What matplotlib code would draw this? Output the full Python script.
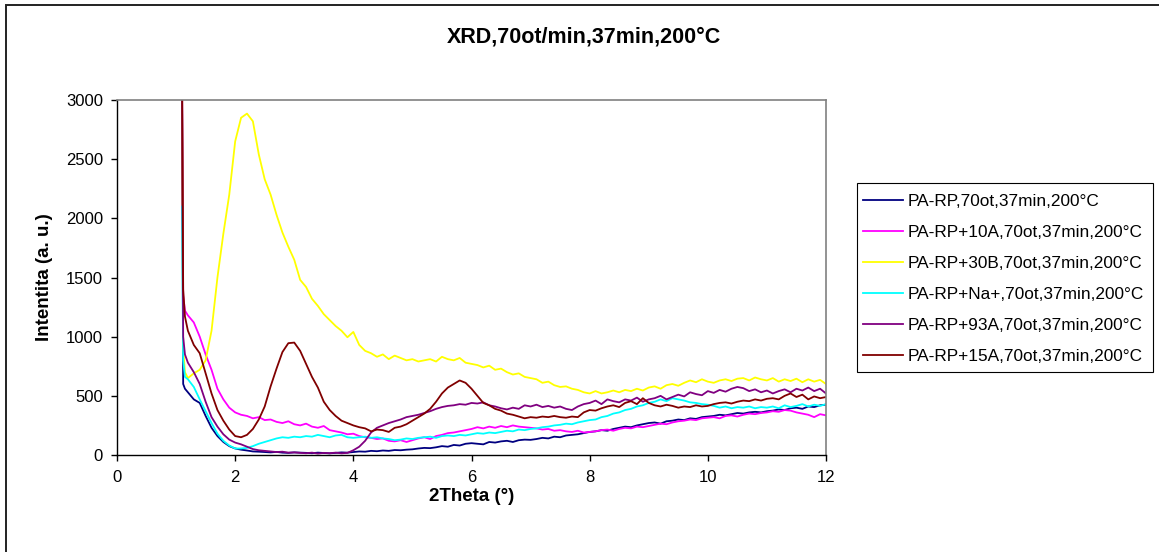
import numpy as np
import matplotlib
matplotlib.use("Agg")
import matplotlib.pyplot as plt
from matplotlib.patches import Rectangle

plt.rcParams['font.family'] = ['Liberation Sans', 'DejaVu Sans']

# 2-theta grid (degrees): steep start near 1.1, then 0.1 steps up to 12
two_theta = np.concatenate([[1.10, 1.12, 1.15], np.round(np.arange(1.2, 12.001, 0.1), 2)])

pa_rp = [3200, 600, 560,
         530, 470, 440, 330, 230, 160, 110, 75, 55,
         45, 38, 30, 28, 25, 22, 26, 20, 18, 22,
         20, 18, 15, 20, 17, 14, 18, 22, 20, 25,
         30, 28, 35, 32, 38, 35, 42, 40, 45, 48,
         55, 60, 58, 65, 75, 70, 85, 80, 95, 100,
         95, 90, 110, 105, 115, 120, 110, 125, 130, 128,
         135, 145, 140, 155, 150, 165, 170, 175, 185, 195,
         200, 210, 205, 220, 230, 240, 235, 250, 260, 270,
         275, 265, 285, 290, 300, 295, 310, 305, 320, 325,
         330, 340, 335, 345, 355, 350, 360, 365, 360, 370,
         375, 385, 380, 395, 400, 390, 410, 405, 420, 425]

pa_rp_10a = [3300, 1350, 1220,
             1180, 1120, 1000, 850, 720, 560, 470, 400, 360,
             340, 330, 310, 320, 295, 300, 280, 270, 285, 260,
             250, 265, 240, 230, 245, 210, 200, 190, 175, 180,
             160, 150, 145, 135, 140, 120, 115, 125, 110, 125,
             140, 150, 135, 160, 170, 185, 190, 200, 210, 220,
             235, 225, 240, 230, 245, 235, 250, 240, 235, 230,
             225, 215, 220, 205, 210, 200, 195, 205, 190, 195,
             200, 210, 215, 205, 220, 230, 225, 240, 235, 245,
             255, 265, 260, 275, 285, 290, 300, 295, 310, 315,
             320, 310, 330, 335, 325, 340, 350, 345, 355, 360,
             370, 365, 380, 375, 360, 350, 340, 320, 345, 335]

pa_rp_30b = [3100, 900, 700,
             650, 690, 720, 800, 1050, 1500, 1870, 2200, 2650,
             2850, 2885, 2820, 2540, 2330, 2200, 2030, 1880, 1760, 1650,
             1480, 1420, 1320, 1260, 1190, 1140, 1090, 1050, 995, 1040,
             930, 880, 860, 830, 850, 810, 840, 820, 800, 810,
             790, 800, 810, 790, 830, 810, 800, 820, 780, 770,
             760, 740, 755, 720, 730, 700, 680, 690, 660, 650,
             640, 610, 620, 590, 575, 580, 560, 550, 530, 520,
             540, 520, 530, 545, 530, 550, 540, 560, 545, 570,
             580, 560, 590, 600, 585, 610, 630, 615, 640, 620,
             610, 630, 640, 625, 645, 650, 630, 655, 640, 630,
             650, 620, 640, 625, 645, 615, 640, 620, 635, 600]

pa_rp_na = [2100, 800, 660,
            640, 575, 470, 370, 270, 180, 120, 80, 55,
            55, 60, 75, 95, 110, 125, 140, 150, 145, 155,
            150, 160, 155, 170, 160, 150, 165, 170, 150, 145,
            150, 155, 145, 150, 140, 135, 125, 130, 140, 135,
            145, 150, 155, 145, 160, 165, 160, 170, 165, 175,
            185, 180, 190, 185, 195, 205, 200, 215, 210, 220,
            225, 235, 240, 250, 255, 265, 260, 275, 285, 295,
            300, 320, 330, 350, 360, 380, 390, 410, 420, 440,
            450, 470, 455, 480, 470, 460, 445, 440, 430, 425,
            415, 400, 410, 395, 405, 400, 410, 395, 405, 400,
            410, 395, 420, 405, 415, 430, 410, 425, 415, 430]

pa_rp_93a = [3100, 1000, 850,
             780, 700, 600, 450, 320, 240, 175, 130, 105,
             90, 70, 50, 40, 35, 30, 25, 28, 20, 22,
             18, 15, 20, 12, 18, 15, 20, 14, 18, 40,
             70, 120, 190, 230, 250, 270, 285, 300, 320, 330,
             340, 355, 370, 390, 405, 415, 420, 430, 425, 440,
             435, 445, 420, 410, 395, 385, 400, 390, 420, 410,
             425, 405, 415, 400, 410, 390, 380, 410, 430, 440,
             460, 430, 470, 455, 445, 470, 460, 485, 450, 470,
             480, 500, 470, 490, 510, 495, 530, 515, 505, 540,
             525, 550, 535, 560, 575, 565, 540, 555, 530, 545,
             520, 540, 555, 530, 560, 545, 570, 540, 560, 520]

pa_rp_15a = [3500, 1400, 1170,
             1050, 930, 860, 690, 520, 380, 290, 215, 160,
             150, 170, 220, 300, 410, 580, 730, 870, 945, 950,
             880, 770, 660, 570, 450, 380, 330, 290, 270, 250,
             235, 225, 200, 215, 210, 195, 230, 240, 260, 290,
             320, 350, 390, 450, 520, 570, 600, 630, 610, 560,
             500, 440, 420, 390, 375, 350, 340, 325, 310, 320,
             315, 325, 320, 330, 320, 315, 325, 320, 360, 380,
             375, 395, 410, 420, 405, 440, 455, 430, 480, 440,
             420, 410, 425, 415, 400, 410, 405, 420, 410, 415,
             430, 440, 445, 435, 450, 460, 455, 470, 460, 475,
             480, 470, 500, 520, 490, 510, 470, 495, 480, 490]

series = [
    ("PA-RP,70ot,37min,200°C", pa_rp, "#000080"),
    ("PA-RP+10A,70ot,37min,200°C", pa_rp_10a, "#FF00FF"),
    ("PA-RP+30B,70ot,37min,200°C", pa_rp_30b, "#FFFF00"),
    ("PA-RP+Na+,70ot,37min,200°C", pa_rp_na, "#00FFFF"),
    ("PA-RP+93A,70ot,37min,200°C", pa_rp_93a, "#800080"),
    ("PA-RP+15A,70ot,37min,200°C", pa_rp_15a, "#800000"),
]

x_ticks = [0, 2, 4, 6, 8, 10, 12]
y_ticks = [0, 500, 1000, 1500, 2000, 2500, 3000]

W, H = 1159, 552
fig = plt.figure(figsize=(W / 100, H / 100), dpi=100)
fig.patch.set_facecolor("white")

# outer chart frame
fig.patches.append(Rectangle((6 / W, -0.05), 2.0, 1 - 5 / H + 0.05,
                             transform=fig.transFigure, fill=False,
                             edgecolor="#222222", linewidth=1.4))

ax = fig.add_axes([117 / W, 1 - 455 / H, (826 - 117) / W, (455 - 100) / H])

for label, values, color in series:
    ax.plot(two_theta, values, color=color, linewidth=1.3, label=label)

ax.set_xlim(0, 12)
ax.set_ylim(0, 3000)
ax.set_xticks(x_ticks)
ax.set_yticks(y_ticks)
ax.tick_params(direction="out", length=4, width=1, labelsize=12, colors="black")
ax.tick_params(axis="y", pad=6)
ax.tick_params(axis="x", pad=7)

for side in ("top", "right"):
    ax.spines[side].set_color("#808080")
    ax.spines[side].set_linewidth(1.2)
for side in ("left", "bottom"):
    ax.spines[side].set_color("black")
    ax.spines[side].set_linewidth(1.0)

ax.set_xlabel("2Theta (°)", fontsize=13.5, fontweight="bold", labelpad=2)
ax.set_ylabel("Intentita (a. u.)", fontsize=13.5, fontweight="bold", labelpad=9)

fig.text(584 / W, 1 - 37 / H, "XRD,70ot/min,37min,200°C", ha="center", va="center",
         fontsize=15.5, fontweight="bold")

# legend box drawn as its own frame, entries placed inside it
fig.patches.append(Rectangle((857 / W, 1 - 372 / H), (1153 - 857) / W, (372 - 183) / H,
                             transform=fig.transFigure, fill=False,
                             edgecolor="black", linewidth=0.8))
leg = fig.legend(loc="upper left", bbox_to_anchor=(863 / W, 1 - 194 / H),
                 fontsize=12.4, frameon=False,
                 handlelength=2.3, handletextpad=0.3, labelspacing=0.92,
                 borderpad=0, borderaxespad=0)

fig.savefig("out.png", dpi=100, facecolor="white")
